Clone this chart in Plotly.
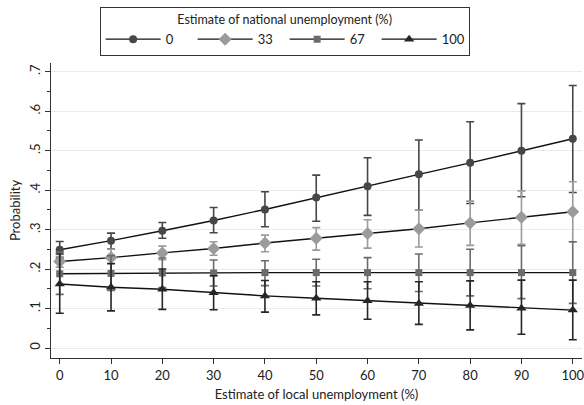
import plotly.graph_objects as go

# Data
local_unemp = [0, 10, 20, 30, 40, 50, 60, 70, 80, 90, 100]
series_names = ["0", "33", "67", "100"]

p0 = [0.249, 0.272, 0.297, 0.323, 0.351, 0.381, 0.410, 0.440, 0.469, 0.500, 0.530]
p0_lo = [0.228, 0.251, 0.278, 0.292, 0.307, 0.321, 0.336, 0.349, 0.366, 0.383, 0.394]
p0_hi = [0.270, 0.291, 0.318, 0.356, 0.396, 0.438, 0.482, 0.527, 0.573, 0.619, 0.665]

p33 = [0.219, 0.229, 0.241, 0.252, 0.266, 0.278, 0.290, 0.302, 0.317, 0.331, 0.345]
p33_lo = [0.205, 0.213, 0.224, 0.235, 0.244, 0.248, 0.253, 0.256, 0.260, 0.263, 0.269]
p33_hi = [0.232, 0.250, 0.258, 0.269, 0.286, 0.305, 0.325, 0.349, 0.372, 0.398, 0.421]

p67 = [0.188, 0.189, 0.190, 0.190, 0.191, 0.191, 0.191, 0.191, 0.191, 0.191, 0.191]
p67_lo = [0.136, 0.146, 0.153, 0.157, 0.158, 0.157, 0.150, 0.143, 0.132, 0.125, 0.113]
p67_hi = [0.243, 0.234, 0.228, 0.223, 0.221, 0.225, 0.229, 0.238, 0.250, 0.259, 0.269]

p100 = [0.162, 0.154, 0.149, 0.140, 0.132, 0.126, 0.120, 0.113, 0.108, 0.101, 0.096]
p100_lo = [0.088, 0.094, 0.098, 0.097, 0.091, 0.084, 0.073, 0.060, 0.046, 0.035, 0.021]
p100_hi = [0.238, 0.214, 0.200, 0.183, 0.171, 0.168, 0.168, 0.168, 0.170, 0.172, 0.172]

y_ticks = [0, 0.1, 0.2, 0.3, 0.4, 0.5, 0.6, 0.7]
y_ticklabels = ["0", ".1", ".2", ".3", ".4", ".5", ".6", ".7"]
x_ticks = [0, 10, 20, 30, 40, 50, 60, 70, 80, 90, 100]

FONT = "Lato"

series = [
    ("0", p0, p0_lo, p0_hi, "#474747", "circle", 8),
    ("33", p33, p33_lo, p33_hi, "#9b9b9b", "diamond", 10),
    ("67", p67, p67_lo, p67_hi, "#6b6b6b", "square", 7),
    ("100", p100, p100_lo, p100_hi, "#262626", "triangle-up", 9),
]

fig = go.Figure()
for name, y, lo, hi, col, sym, sz in series:
    fig.add_trace(go.Scatter(
        x=local_unemp, y=y, name=name, mode="lines+markers",
        line=dict(color="#111111", width=1.4),
        marker=dict(color=col, symbol=sym, size=sz),
        cliponaxis=False,
        error_y=dict(type="data", symmetric=False,
                     array=[h - v for h, v in zip(hi, y)],
                     arrayminus=[v - l for v, l in zip(y, lo)],
                     color=col, thickness=1.6, width=4),
    ))

fig.update_layout(
    width=584, height=405,
    margin=dict(l=51, r=2, t=63, b=47, autoexpand=False),
    paper_bgcolor="white", plot_bgcolor="white",
    font=dict(family=FONT, size=13, color="#222222"),
    showlegend=True,
    legend=dict(
        orientation="h", x=0.44, y=1.19, xanchor="center", yanchor="top",
        bordercolor="#333333", borderwidth=1, bgcolor="white",
        title=dict(text="Estimate of national unemployment (%)", side="top center",
                   font=dict(family=FONT, size=12.5)),
        font=dict(family=FONT, size=13),
        itemwidth=55,
        entrywidth=22,
    ),
    xaxis=dict(
        range=[-1.7, 101.8], tickvals=x_ticks,
        showgrid=False, zeroline=False,
        showline=True, linecolor="#333333", linewidth=1.3,
        ticks="outside", ticklen=5, tickcolor="#333333", tickwidth=1.2,
        ticklabeloverflow="allow",
        title=dict(text="Estimate of local unemployment (%)", standoff=8,
                   font=dict(size=13)),
        automargin=False,
    ),
    yaxis=dict(
        range=[-0.0253, 0.722], tickvals=y_ticks, ticktext=y_ticklabels,
        tickangle=-90,
        showgrid=True, gridcolor="#ebebeb", gridwidth=1.3,
        zeroline=False,
        showline=True, linecolor="#333333", linewidth=1.3,
        ticks="outside", ticklen=5, tickcolor="#333333", tickwidth=1.2,
        minor=dict(dtick=0.05, tick0=0, ticks="outside", ticklen=3,
                   tickcolor="#333333", showgrid=False),
        title=dict(text="Probability", standoff=3, font=dict(size=13)),
        automargin=False,
    ),
)

fig.write_html("out.html", config={"displayModeBar": False},
               post_script="document.body.style.margin='0';")
